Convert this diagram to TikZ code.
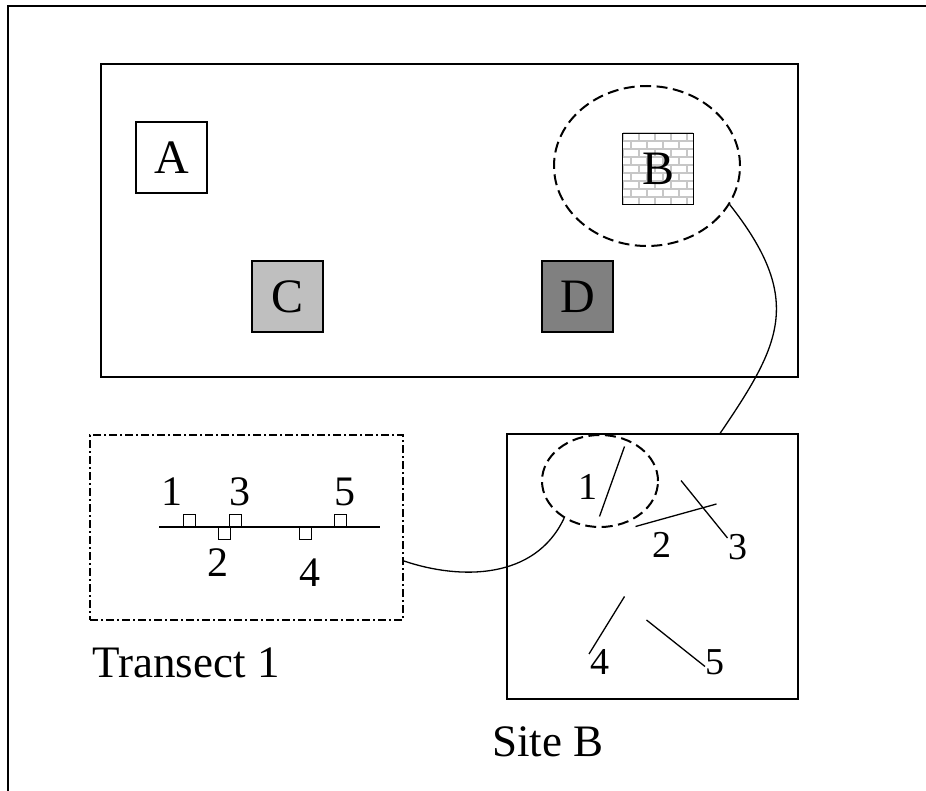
\documentclass[tikz,border=0pt]{standalone}
\usepackage{fontspec}
\setmainfont{Liberation Serif}
\usetikzlibrary{shapes.geometric,calc}

\tikzset{
  lbl/.style={inner sep=0pt, font=\fontsize{45}{50}\selectfont},
  sq/.style={draw, line width=1.5pt, minimum size=71pt, inner sep=0pt,
             font=\fontsize{48}{52}\selectfont},
  frame/.style={draw, line width=1.6pt},
  dashring/.style={draw, ellipse, line width=2pt, dash pattern=on 11pt off 5.5pt, inner sep=0pt},
  link/.style={draw, line width=1.3pt},
  tick/.style={line width=1.3pt},
  tnum/.style={inner sep=0pt, font=\fontsize{42}{46}\selectfont},
  snum/.style={inner sep=0pt, font=\fontsize{38}{42}\selectfont},
  plot/.style={draw, line width=1.3pt, minimum size=12pt, inner sep=0pt},
  mortar/.style={draw=black!22, line width=1.3pt},
}

\begin{document}
\begin{tikzpicture}[x=1pt, y=-1pt]
  \useasboundingbox (0,0) rectangle (926,791);

  % page frame (only top and left edges are visible)
  \draw[line width=2.2pt] (8,791) -- (8,6) -- (926,6);

  % study area
  \node[frame, minimum width=697pt, minimum height=313pt, inner sep=0pt] (area) at (449.5,220.5) {};

  % sites
  \node[sq] (A) at (171.5,157.5) {A};
  \node[sq, fill=black!25] (C) at (287.5,296.5) {C};
  \node[sq, fill=black!50] (D) at (577.5,296.5) {D};

  % site B with brick texture
  \begin{scope}
    \clip (623,133) rectangle (693,205);
    \fill[white] (623,133) rectangle (693,205);
    \foreach \r in {0,...,8} {
      \pgfmathsetmacro{\yy}{133+8*\r}
      \draw[mortar] (623,\yy) -- (693,\yy);
      \pgfmathsetmacro{\off}{mod(\r,2)*8}
      \foreach \k in {0,...,5} {
        \pgfmathsetmacro{\xx}{623+\off+16*\k}
        \draw[mortar] (\xx,\yy) -- (\xx,\yy+8);
      }
    }
  \end{scope}
  \node[sq] (B) at (658,169) {B};

  \node[dashring, minimum width=186pt, minimum height=160pt] (eB) at (647,166) {};

  % transect box
  \node[draw, line width=2pt, dash pattern=on 8pt off 3pt on 2pt off 3pt,
        minimum width=313pt, minimum height=185pt, inner sep=0pt] (tr) at (246.5,527.5) {};
  \coordinate (tl) at (159,527);
  \coordinate (tr2) at (380,527);
  \draw[tick] (tl) -- (tr2);
  \node[plot, anchor=south west] (p1) at (183,527) {};
  \node[plot, anchor=north west] (p2) at (217.5,527) {};
  \node[plot, anchor=south west] (p3) at (229,527) {};
  \node[plot, anchor=north west] (p4) at (298.5,527) {};
  \node[plot, anchor=south west] (p5) at (333.5,527) {};
  \node[tnum] (n1) at (172,492) {1};
  \node[tnum] (n3) at (240,492) {3};
  \node[tnum] (n5) at (345,492) {5};
  \node[tnum] (n2) at (218,563) {2};
  \node[tnum] (n4) at (310,573) {4};

  \node[lbl] (trlab) at (186,663) {Transect 1};

  % site B detail
  \node[frame, minimum width=291pt, minimum height=265pt, inner sep=0pt] (site) at (652.5,566.5) {};
  \node[lbl] (sitelab) at (548,742) {Site B};

  \node[dashring, minimum width=116pt, minimum height=92pt] (e1) at (600,481) {};

  \coordinate (a1) at (624.5,446.5); \coordinate (b1) at (599.5,516.5);
  \coordinate (a2) at (635.5,526.5); \coordinate (b2) at (716.5,504);
  \coordinate (a3) at (681,480.5);   \coordinate (b3) at (727.5,538);
  \coordinate (a4) at (624.5,596.5); \coordinate (b4) at (589,654);
  \coordinate (a5) at (646.5,620);   \coordinate (b5) at (705,666.5);
  \draw[tick] (a1) -- (b1);
  \draw[tick] (a2) -- (b2);
  \draw[tick] (a3) -- (b3);
  \draw[tick] (a4) -- (b4);
  \draw[tick] (a5) -- (b5);
  \node[snum] (s1) at (588,487) {1};
  \node[snum] (s2) at (662,545) {2};
  \node[snum] (s3) at (738,547) {3};
  \node[snum] (s4) at (599.5,662) {4};
  \node[snum] (s5) at (715,662) {5};

  % connectors
  \draw[link] (eB.-25) .. controls (805,300) and (780,345) .. ($(site.north west)+(214,0)$);
  \draw[link] (e1.-134) .. controls (535,580) and (460,580) .. ($(tr.east)+(0,33.5)$);
\end{tikzpicture}
\end{document}
